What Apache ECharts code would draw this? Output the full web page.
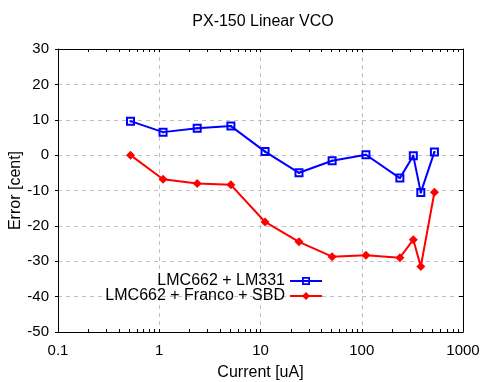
<!DOCTYPE html>
<html>
<head>
<meta charset="utf-8">
<script src="https://cdn.jsdelivr.net/npm/echarts@6/dist/echarts.min.js"></script>
<style>html,body{margin:0;padding:0;background:#fff}#c{width:488px;height:382px}</style>
</head>
<body>
<div id="c"></div>
<script>
const titleText = 'PX-150 Linear VCO';
const xName = 'Current [uA]';
const yName = 'Error [cent]';
const seriesNames = ['LMC662 + LM331', 'LMC662 + Franco + SBD'];
const current = [0.52, 1.09, 2.37, 5.1, 11.1, 24, 51, 110, 238, 323, 383, 522];
const lm331 = [9.6, 6.5, 7.6, 8.2, 1.0, -5.0, -1.6, 0.1, -6.5, -0.2, -10.6, 0.9];
const franco = [0.0, -6.8, -8.0, -8.4, -18.9, -24.5, -28.7, -28.3, -29.0, -23.9, -31.5, -10.5];
const xTickValues = [0.1,0.2,0.3,0.4,0.5,0.6,0.7,0.8,0.9,1,2,3,4,5,6,7,8,9,10,20,30,40,50,60,70,80,90,100,200,300,400,500,600,700,800,900,1000];

const FONT = 'Liberation Sans, Arial, sans-serif';
const squareSym = 'path://M0,0H9V9H0Z M2,2V7H7V2Z M3.5,3.5H5.5V5.5H3.5Z';
const gridLine = {show: true, lineStyle: {color: '#c0c0c0', type: [4, 4], width: 1}};

const chart = echarts.init(document.getElementById('c'), null, {renderer: 'canvas'});
const baseX = {
  type: 'log', logBase: 10, min: 0.1, max: 1000,
  axisLine: {show: true, onZero: false, lineStyle: {color: '#000', width: 1}},
  axisTick: {show: true, inside: true, length: 3, lineStyle: {color: '#000'}, customValues: xTickValues},
  minorTick: {show: false},
  splitLine: {show: false}
};
chart.setOption({
  animation: false,
  title: {text: titleText, left: 258, textAlign: 'center', top: 9,
    textStyle: {fontFamily: FONT, fontSize: 16, fontWeight: 'normal', color: '#000'}},
  grid: {left: 58, right: 25, top: 49, bottom: 50, containLabel: false, outerBoundsMode: 'none'},
  legend: {
    data: seriesNames, orient: 'vertical', align: 'right',
    right: 160, top: 268, itemGap: -1, itemWidth: 32, itemHeight: 10,
    textStyle: {fontFamily: FONT, fontSize: 16, color: '#000', lineHeight: 15}
  },
  xAxis: [
    Object.assign({}, baseX, {
      position: 'bottom', name: xName, nameLocation: 'middle', nameGap: 33,
      nameMoveOverlap: false,
      nameTextStyle: {fontFamily: FONT, fontSize: 16, color: '#000'},
      axisLabel: {fontFamily: FONT, fontSize: 15, color: '#000', margin: 11,
        formatter: v => String(v)}
    }),
    Object.assign({}, baseX, {
      position: 'top', axisLabel: {show: false}
    }),
    {
      type: 'log', logBase: 10, min: 0.1, max: 1000, position: 'bottom',
      axisLine: {show: false, onZero: false}, axisTick: {show: false},
      axisLabel: {show: false}, splitLine: gridLine
    }
  ],
  yAxis: [
    {
      type: 'value', min: -50, max: 30, interval: 10, position: 'left',
      name: yName, nameLocation: 'middle', nameGap: 34, nameMoveOverlap: false,
      nameTextStyle: {fontFamily: FONT, fontSize: 16, color: '#000'},
      axisLine: {show: true, onZero: false, lineStyle: {color: '#000'}},
      axisTick: {show: true, inside: false, length: 3, lineStyle: {color: '#000'}},
      axisLabel: {fontFamily: FONT, fontSize: 15, color: '#000', margin: 9},
      splitLine: gridLine
    },
    {
      type: 'value', min: -50, max: 30, interval: 10, position: 'right',
      axisLine: {show: true, onZero: false, lineStyle: {color: '#000'}},
      axisTick: {show: true, inside: true, length: 4, lineStyle: {color: '#000'}},
      axisLabel: {show: false}, splitLine: {show: false}
    }
  ],
  series: [
    {
      name: seriesNames[0], type: 'line', xAxisIndex: 0, yAxisIndex: 0,
      data: current.map((x, i) => [x, lm331[i]]),
      symbol: squareSym, symbolSize: 9, showAllSymbol: true,
      lineStyle: {color: '#0000ff', width: 2},
      itemStyle: {color: '#0000ff'}
    },
    {
      name: seriesNames[1], type: 'line', xAxisIndex: 0, yAxisIndex: 0,
      data: current.map((x, i) => [x, franco[i]]),
      symbol: 'diamond', symbolSize: 9, showAllSymbol: true,
      lineStyle: {color: '#ff0000', width: 2},
      itemStyle: {color: '#ff0000'}
    }
  ]
});
</script>
</body>
</html>
